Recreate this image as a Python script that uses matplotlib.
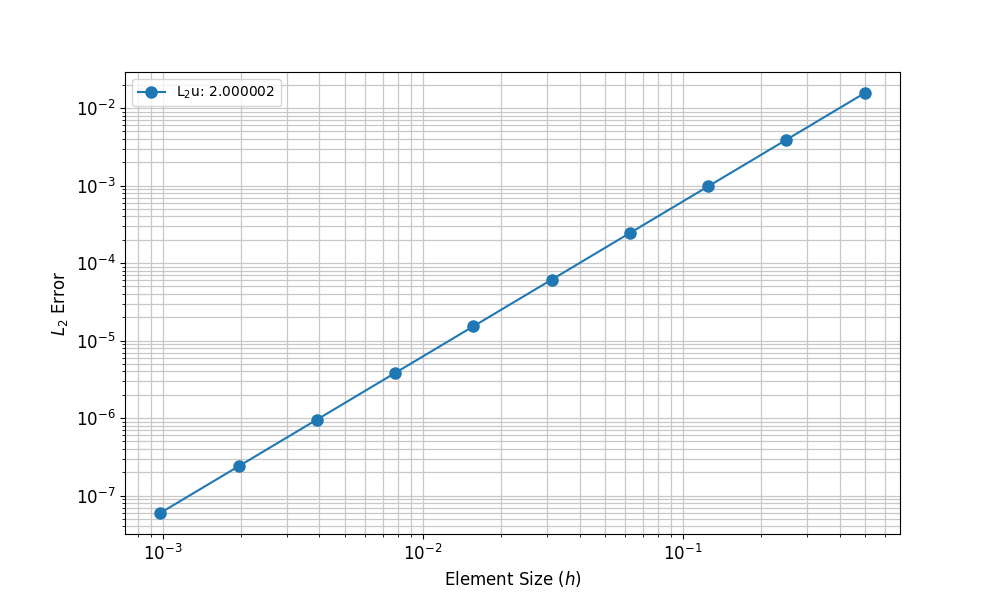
import matplotlib
matplotlib.use("Agg")
import matplotlib.pyplot as plt

h_values = [0.5, 0.25, 0.125, 0.0625, 0.03125, 0.015625, 0.0078125,
            0.00390625, 0.001953125, 0.0009765625]
l2_errors = [1.5625e-2, 3.90625e-3, 9.765625e-4, 2.44140625e-4, 6.1035e-5,
             1.5259e-5, 3.8147e-6, 9.5367e-7, 2.3842e-7, 5.9605e-8]
legend_label = r"L$_2$u: 2.000002"

fig, ax = plt.subplots(figsize=(10, 6), dpi=100)
ax.loglog(h_values, l2_errors, 'o-', color='#1f77b4', markersize=8, label=legend_label)
ax.grid(True, which='both', color='#c8c8c8', linewidth=0.9)
ax.set_xlabel(r"Element Size ($h$)", fontsize=12)
ax.set_ylabel(r"$L_2$ Error", fontsize=12)
ax.tick_params(axis='both', which='major', labelsize=12)
ax.legend(loc='upper left')
fig.savefig("out.png")
